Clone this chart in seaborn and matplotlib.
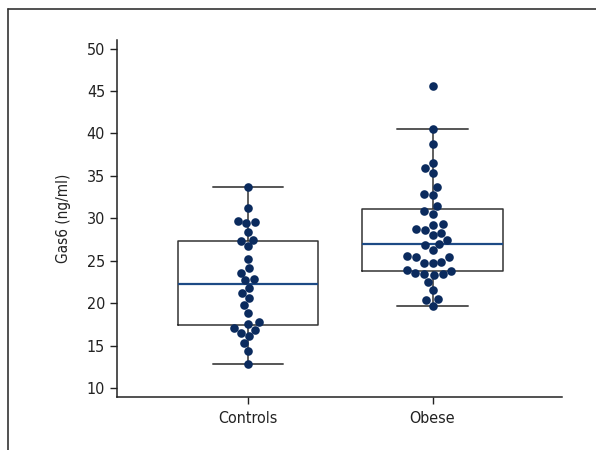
import numpy as np
import pandas as pd
import matplotlib
matplotlib.use("Agg")
import matplotlib.pyplot as plt
from matplotlib.lines import Line2D
import seaborn as sns

# Data
groups = ["Controls", "Obese"]
controls = [33.7, 31.2, 29.7, 29.6, 29.4, 28.4, 27.5, 27.3, 26.7, 25.2,
            24.1, 23.6, 22.8, 22.7, 21.8, 21.2, 20.6, 19.8, 18.9, 17.8,
            17.6, 17.1, 16.9, 16.5, 16.1, 15.3, 14.4, 12.8]
obese = [45.6, 40.5, 38.7, 36.5, 35.9, 35.4, 33.7, 32.9, 32.8, 31.4,
         30.9, 30.5, 29.3, 29.2, 28.8, 28.6, 28.3, 28.0, 27.4, 27.0,
         26.9, 26.3, 25.6, 25.5, 25.4, 24.9, 24.8, 24.7, 23.9, 23.8,
         23.6, 23.5, 23.4, 23.3, 22.5, 21.6, 20.5, 20.4, 19.7]
y_ticks = [10, 15, 20, 25, 30, 35, 40, 45, 50]

df = pd.DataFrame({
    "group": ["Controls"] * len(controls) + ["Obese"] * len(obese),
    "gas6": controls + obese,
})

sns.set_style("ticks")
plt.rcParams["font.family"] = ["Liberation Sans Narrow", "DejaVu Sans"]
plt.rcParams["font.stretch"] = "condensed"

fig = plt.figure(figsize=(5.96, 4.5), dpi=100)
ax = fig.add_axes([0.196, 0.1185, 0.7465, 0.7925])

sns.boxplot(data=df, x="group", y="gas6", order=groups, width=0.76,
            fill=False, color="#333333", linewidth=1.1, showfliers=False,
            medianprops={"color": "#1d4a85", "linewidth": 1.6},
            whiskerprops={"color": "#333333"},
            capprops={"color": "#555555", "linewidth": 1.4},
            ax=ax)
sns.swarmplot(data=df, x="group", y="gas6", order=groups, color="#0b2b5e",
              size=6.2, ax=ax, zorder=5)

ax.set_ylim(9, 51)
ax.set_xlim(-0.71, 1.70)
ax.set_yticks(y_ticks)
ax.set_xlabel("")
ax.set_ylabel("Gas6 (ng/ml)", fontsize=11, color="#222222", labelpad=11)
ax.tick_params(axis="both", labelsize=11.5, colors="#222222", length=5, width=1)
ax.tick_params(axis="x", pad=5)
for s in ["top", "right"]:
    ax.spines[s].set_visible(False)
for s in ["left", "bottom"]:
    ax.spines[s].set_linewidth(1.1)
    ax.spines[s].set_color("#222222")

# frame lines on the top and left of the figure
fig.add_artist(Line2D([8 / 596, 1], [1 - 9 / 450, 1 - 9 / 450],
                      transform=fig.transFigure, color="#333333", lw=1.2))
fig.add_artist(Line2D([8 / 596, 8 / 596], [0, 1 - 9 / 450],
                      transform=fig.transFigure, color="#333333", lw=1.2))

fig.savefig("out.png", dpi=100)
